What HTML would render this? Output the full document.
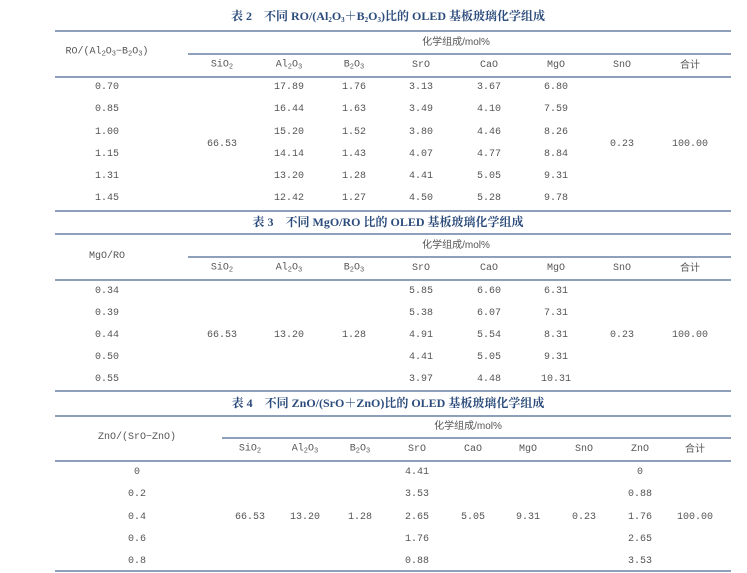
<!DOCTYPE html>
<html><head><meta charset="utf-8"><style>
body{margin:0;width:747px;height:573px;background:#fff;position:relative;overflow:hidden;font-family:"Liberation Mono","Noto Sans CJK SC",monospace;color:#555;font-size:10px}
.l{position:absolute;height:2px;background:#8d9fba}
.t{position:absolute;transform:translate(-50%,-50%);white-space:nowrap;line-height:1}
.h{position:absolute;transform:translate(-50%,-50%);white-space:nowrap;font-family:"Liberation Serif","Noto Serif CJK SC",serif;font-weight:bold;font-size:12px;color:#2c4c7c;line-height:1}
.c{font-family:"Liberation Sans","Noto Sans CJK SC",sans-serif;font-size:10px}
sub{font-size:7px;vertical-align:-2px}
</style></head><body>
<div class="h" style="left:388px;top:17px">表 2　不同 RO/(Al<sub>2</sub>O<sub>3</sub>＋B<sub>2</sub>O<sub>3</sub>)比的 OLED 基板玻璃化学组成</div>
<div class="l" style="left:55px;top:30px;width:676px"></div>
<div class="l" style="left:188px;top:53px;width:543px"></div>
<div class="l" style="left:55px;top:76px;width:676px"></div>
<div class="l" style="left:55px;top:210px;width:676px"></div>
<div class="t" style="left:107px;top:53px">RO/(Al<sub>2</sub>O<sub>3</sub>−B<sub>2</sub>O<sub>3</sub>)</div>
<div class="t c" style="left:456px;top:43px">化学组成/mol%</div>
<div class="t" style="left:222px;top:66px">SiO<sub>2</sub></div><div class="t" style="left:289px;top:66px">Al<sub>2</sub>O<sub>3</sub></div><div class="t" style="left:354px;top:66px">B<sub>2</sub>O<sub>3</sub></div><div class="t" style="left:421px;top:66px">SrO</div><div class="t" style="left:489px;top:66px">CaO</div><div class="t" style="left:556px;top:66px">MgO</div><div class="t" style="left:622px;top:66px">SnO</div><div class="t c" style="left:690px;top:66px">合计</div>
<div class="t" style="left:107px;top:88px">0.70</div><div class="t" style="left:289px;top:88px">17.89</div><div class="t" style="left:354px;top:88px">1.76</div><div class="t" style="left:421px;top:88px">3.13</div><div class="t" style="left:489px;top:88px">3.67</div><div class="t" style="left:556px;top:88px">6.80</div>
<div class="t" style="left:107px;top:110px">0.85</div><div class="t" style="left:289px;top:110px">16.44</div><div class="t" style="left:354px;top:110px">1.63</div><div class="t" style="left:421px;top:110px">3.49</div><div class="t" style="left:489px;top:110px">4.10</div><div class="t" style="left:556px;top:110px">7.59</div>
<div class="t" style="left:107px;top:133px">1.00</div><div class="t" style="left:289px;top:133px">15.20</div><div class="t" style="left:354px;top:133px">1.52</div><div class="t" style="left:421px;top:133px">3.80</div><div class="t" style="left:489px;top:133px">4.46</div><div class="t" style="left:556px;top:133px">8.26</div>
<div class="t" style="left:107px;top:155px">1.15</div><div class="t" style="left:289px;top:155px">14.14</div><div class="t" style="left:354px;top:155px">1.43</div><div class="t" style="left:421px;top:155px">4.07</div><div class="t" style="left:489px;top:155px">4.77</div><div class="t" style="left:556px;top:155px">8.84</div>
<div class="t" style="left:107px;top:177px">1.31</div><div class="t" style="left:289px;top:177px">13.20</div><div class="t" style="left:354px;top:177px">1.28</div><div class="t" style="left:421px;top:177px">4.41</div><div class="t" style="left:489px;top:177px">5.05</div><div class="t" style="left:556px;top:177px">9.31</div>
<div class="t" style="left:107px;top:199px">1.45</div><div class="t" style="left:289px;top:199px">12.42</div><div class="t" style="left:354px;top:199px">1.27</div><div class="t" style="left:421px;top:199px">4.50</div><div class="t" style="left:489px;top:199px">5.28</div><div class="t" style="left:556px;top:199px">9.78</div>
<div class="t" style="left:222px;top:145px">66.53</div><div class="t" style="left:622px;top:145px">0.23</div><div class="t" style="left:690px;top:145px">100.00</div>

<div class="h" style="left:388px;top:222px">表 3　不同 MgO/RO 比的 OLED 基板玻璃化学组成</div>
<div class="l" style="left:55px;top:233px;width:676px"></div>
<div class="l" style="left:188px;top:256px;width:543px"></div>
<div class="l" style="left:55px;top:279px;width:676px"></div>
<div class="l" style="left:55px;top:390px;width:676px"></div>
<div class="t" style="left:107px;top:257px">MgO/RO</div>
<div class="t c" style="left:456px;top:246px">化学组成/mol%</div>
<div class="t" style="left:222px;top:269px">SiO<sub>2</sub></div><div class="t" style="left:289px;top:269px">Al<sub>2</sub>O<sub>3</sub></div><div class="t" style="left:354px;top:269px">B<sub>2</sub>O<sub>3</sub></div><div class="t" style="left:421px;top:269px">SrO</div><div class="t" style="left:489px;top:269px">CaO</div><div class="t" style="left:556px;top:269px">MgO</div><div class="t" style="left:622px;top:269px">SnO</div><div class="t c" style="left:690px;top:269px">合计</div>
<div class="t" style="left:107px;top:292px">0.34</div><div class="t" style="left:421px;top:292px">5.85</div><div class="t" style="left:489px;top:292px">6.60</div><div class="t" style="left:556px;top:292px">6.31</div>
<div class="t" style="left:107px;top:314px">0.39</div><div class="t" style="left:421px;top:314px">5.38</div><div class="t" style="left:489px;top:314px">6.07</div><div class="t" style="left:556px;top:314px">7.31</div>
<div class="t" style="left:107px;top:336px">0.44</div><div class="t" style="left:421px;top:336px">4.91</div><div class="t" style="left:489px;top:336px">5.54</div><div class="t" style="left:556px;top:336px">8.31</div>
<div class="t" style="left:107px;top:358px">0.50</div><div class="t" style="left:421px;top:358px">4.41</div><div class="t" style="left:489px;top:358px">5.05</div><div class="t" style="left:556px;top:358px">9.31</div>
<div class="t" style="left:107px;top:380px">0.55</div><div class="t" style="left:421px;top:380px">3.97</div><div class="t" style="left:489px;top:380px">4.48</div><div class="t" style="left:556px;top:380px">10.31</div>
<div class="t" style="left:222px;top:336px">66.53</div><div class="t" style="left:289px;top:336px">13.20</div><div class="t" style="left:354px;top:336px">1.28</div><div class="t" style="left:622px;top:336px">0.23</div><div class="t" style="left:690px;top:336px">100.00</div>

<div class="h" style="left:388px;top:403px">表 4　不同 ZnO/(SrO＋ZnO)比的 OLED 基板玻璃化学组成</div>
<div class="l" style="left:55px;top:415px;width:676px"></div>
<div class="l" style="left:222px;top:437px;width:509px"></div>
<div class="l" style="left:55px;top:460px;width:676px"></div>
<div class="l" style="left:55px;top:570px;width:676px"></div>
<div class="t" style="left:137px;top:438px">ZnO/(SrO−ZnO)</div>
<div class="t c" style="left:468px;top:427px">化学组成/mol%</div>
<div class="t" style="left:250px;top:450px">SiO<sub>2</sub></div><div class="t" style="left:305px;top:450px">Al<sub>2</sub>O<sub>3</sub></div><div class="t" style="left:360px;top:450px">B<sub>2</sub>O<sub>3</sub></div><div class="t" style="left:417px;top:450px">SrO</div><div class="t" style="left:473px;top:450px">CaO</div><div class="t" style="left:528px;top:450px">MgO</div><div class="t" style="left:584px;top:450px">SnO</div><div class="t" style="left:640px;top:450px">ZnO</div><div class="t c" style="left:695px;top:450px">合计</div>
<div class="t" style="left:137px;top:473px">0</div><div class="t" style="left:417px;top:473px">4.41</div><div class="t" style="left:640px;top:473px">0</div>
<div class="t" style="left:137px;top:495px">0.2</div><div class="t" style="left:417px;top:495px">3.53</div><div class="t" style="left:640px;top:495px">0.88</div>
<div class="t" style="left:137px;top:518px">0.4</div><div class="t" style="left:417px;top:518px">2.65</div><div class="t" style="left:640px;top:518px">1.76</div>
<div class="t" style="left:137px;top:540px">0.6</div><div class="t" style="left:417px;top:540px">1.76</div><div class="t" style="left:640px;top:540px">2.65</div>
<div class="t" style="left:137px;top:562px">0.8</div><div class="t" style="left:417px;top:562px">0.88</div><div class="t" style="left:640px;top:562px">3.53</div>
<div class="t" style="left:250px;top:518px">66.53</div><div class="t" style="left:305px;top:518px">13.20</div><div class="t" style="left:360px;top:518px">1.28</div><div class="t" style="left:473px;top:518px">5.05</div><div class="t" style="left:528px;top:518px">9.31</div><div class="t" style="left:584px;top:518px">0.23</div><div class="t" style="left:695px;top:518px">100.00</div>
</body></html>
